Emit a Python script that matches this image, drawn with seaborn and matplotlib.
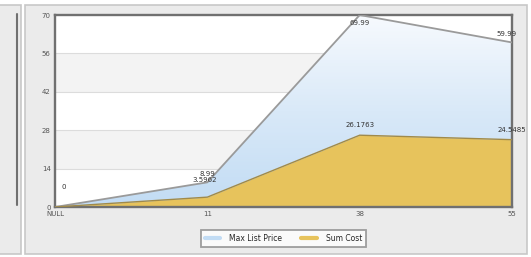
import numpy as np
import pandas as pd
import matplotlib
matplotlib.use("Agg")
import matplotlib.pyplot as plt
import seaborn as sns
from matplotlib.patches import Rectangle

categories = ["NULL", "11", "38", "55"]
max_list_price = [0, 8.99, 69.99, 59.99]
sum_cost = [0, 3.5962, 26.1763, 24.5485]
price_labels = ["0", "8.99", "69.99", "59.99"]
cost_labels = ["", "3.5962", "26.1763", "24.5485"]
y_ticks = [0, 14, 28, 42, 56, 70]

df = pd.DataFrame({"cat": categories, "price": max_list_price, "cost": sum_cost})
df["x"] = range(len(df))

sns.set_style("white")
plt.rcParams["font.family"] = ["DejaVu Sans"]

fig = plt.figure(figsize=(5.31, 2.57), dpi=100)
fig.patch.set_facecolor("white")

# outer panel and left neighbour fragment
fig.patches.append(Rectangle((25 / 531, 3 / 257), 502 / 531, 249 / 257, transform=fig.transFigure,
                             facecolor="#ebebeb", edgecolor="#c8c8c8", lw=1.2, zorder=-2))
fig.patches.append(Rectangle((-0.02, 3 / 257), 32 / 531, 249 / 257, transform=fig.transFigure,
                             facecolor="#ebebeb", edgecolor="#c8c8c8", lw=1.2, zorder=-2))
fig.lines.append(plt.Line2D([17 / 531, 17 / 531], [1 - 205 / 257, 1 - 14 / 257], transform=fig.transFigure,
                            color="#707070", lw=1.5, zorder=-1))

ax = fig.add_axes([55 / 531, 1 - 207 / 257, 457 / 531, 192 / 257])
ax.set_facecolor("white")

# alternating bands
for i in range(len(y_ticks) - 1):
    if i % 2 == 1:
        ax.axhspan(y_ticks[i], y_ticks[i + 1], color="#f3f3f3", zorder=0, lw=0)
for t in y_ticks[1:-1]:
    ax.axhline(t, color="#dcdcdc", lw=0.8, zorder=0.5)

# blue gradient area
poly = ax.fill_between(df["x"], df["price"], 0, color="none", lw=0, zorder=1)
grad = np.linspace(0, 1, 256).reshape(-1, 1)
cmap = matplotlib.colors.LinearSegmentedColormap.from_list("g", ["#c2dcf4", "#d9e9f8", "#f7fafe"])
img = ax.imshow(grad, extent=[0, 3, 0, 70], origin="lower", aspect="auto", cmap=cmap, zorder=1)
img.set_clip_path(poly.get_paths()[0], transform=ax.transData)

ax.fill_between(df["x"], df["cost"], 0, color="#e7c35c", lw=0, zorder=2)

sns.lineplot(data=df, x="x", y="price", ax=ax, color="#9a9a9a", lw=1.3, zorder=3, label="Max List Price")
sns.lineplot(data=df, x="x", y="cost", ax=ax, color="#a08a4a", lw=1.0, zorder=3, label="Sum Cost")

# data labels
fs = 5
offs_p = [(6, 12), (0, 4), (0, -8), (-4, 4)]
for i, (v, lab) in enumerate(zip(df["price"], price_labels)):
    ax.annotate(lab, (df["x"][i], v), xytext=offs_p[i], textcoords="offset points",
                ha="center", va="bottom", fontsize=fs, color="#333333", zorder=5)
offs_c = [(0, 0), (-2, 10), (0, 5), (0, 5)]
for i, (v, lab) in enumerate(zip(df["cost"], cost_labels)):
    if lab:
        ax.annotate(lab, (df["x"][i], v), xytext=offs_c[i], textcoords="offset points",
                    ha="center", va="bottom", fontsize=fs, color="#333333", zorder=5)

ax.set_xlim(0, 3)
ax.set_ylim(0, 70)
ax.set_xticks(df["x"])
ax.set_xticklabels(categories)
ax.set_yticks(y_ticks)
ax.tick_params(axis="both", labelsize=5, colors="#555555", length=0, pad=3)
ax.set_xlabel("")
ax.set_ylabel("")
for s in ax.spines.values():
    s.set_color("#707070")
    s.set_linewidth(1.7)

leg = ax.legend(loc="upper center", bbox_to_anchor=(0.5, -0.1), ncol=2, fontsize=5.5,
                frameon=True, fancybox=False, edgecolor="#888888", handlelength=2.0,
                columnspacing=2.5, borderpad=0.5, handletextpad=1.2)
leg.get_frame().set_linewidth(1.3)
leg.legend_handles[0].set_color("#c2dcf4")
leg.legend_handles[0].set_linewidth(3)
leg.legend_handles[1].set_color("#e7c35c")
leg.legend_handles[1].set_linewidth(3)

fig.savefig("out.png", dpi=100)
